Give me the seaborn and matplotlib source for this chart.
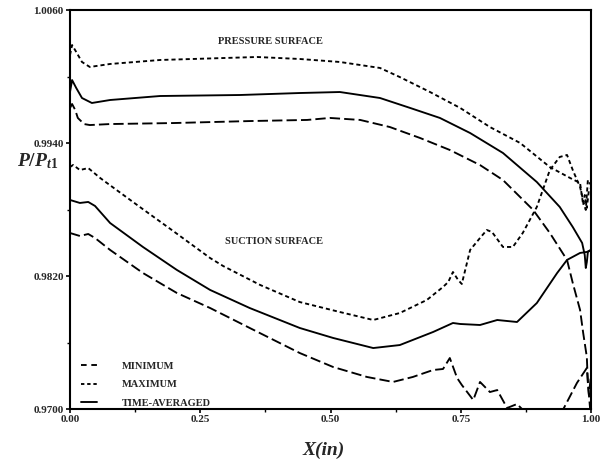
import numpy as np
import pandas as pd
import matplotlib
matplotlib.use("Agg")
import matplotlib.pyplot as plt
import seaborn as sns
from matplotlib.lines import Line2D
from matplotlib.ticker import FixedLocator

# ---------------- data ----------------
ps_max_x = [0.000, 0.004, 0.012, 0.023, 0.038, 0.077, 0.173, 0.359, 0.441, 0.518, 0.595, 0.633,
            0.691, 0.749, 0.806, 0.864, 0.921, 0.960, 0.979, 0.985, 0.988, 0.992, 0.996, 1.000]
ps_max_y = [1.00194, 1.00284, 1.00221, 1.00131, 1.00086, 1.00113, 1.00149, 1.00176, 1.00158, 1.00131,
            1.00077, 0.99995, 0.99860, 0.99716, 0.99544, 0.99400, 0.99183, 0.99084, 0.99039, 0.98841,
            0.98931, 0.98814, 0.98976, 0.98994]

ps_avg_x = [0.000, 0.004, 0.012, 0.023, 0.042, 0.077, 0.173, 0.326, 0.441, 0.518, 0.595, 0.653,
            0.710, 0.768, 0.831, 0.896, 0.940, 0.965, 0.983, 0.988, 0.990, 0.992, 0.994, 1.000]
ps_avg_y = [0.99860, 0.99968, 0.99896, 0.99806, 0.99761, 0.99788, 0.99824, 0.99833, 0.99851, 0.99860,
            0.99806, 0.99716, 0.99626, 0.99490, 0.99310, 0.99048, 0.98823, 0.98642, 0.98498, 0.98389,
            0.98272, 0.98326, 0.98417, 0.98435]

ps_min_x = [0.000, 0.004, 0.010, 0.015, 0.027, 0.038, 0.077, 0.198, 0.345, 0.455, 0.499, 0.557,
            0.614, 0.672, 0.729, 0.787, 0.831, 0.889, 0.921, 0.954, 0.965, 0.979, 0.985, 0.992,
            0.994, 0.998, 1.000]
ps_min_y = [0.99716, 0.99752, 0.99698, 0.99626, 0.99571, 0.99562, 0.99571, 0.99580, 0.99598, 0.99608,
            0.99626, 0.99608, 0.99544, 0.99445, 0.99337, 0.99201, 0.99066, 0.98796, 0.98588, 0.98345,
            0.98137, 0.97894, 0.97686, 0.97469, 0.97235, 0.97018, 0.96901]

ss_max_x = [0.000, 0.006, 0.019, 0.035, 0.058, 0.071, 0.134, 0.198, 0.269, 0.294, 0.365, 0.441,
            0.518, 0.582, 0.633, 0.685, 0.716, 0.726, 0.735, 0.745, 0.752, 0.768, 0.787, 0.800,
            0.810, 0.831, 0.850, 0.869, 0.896, 0.921, 0.940, 0.954, 0.965, 0.979, 0.987, 0.990,
            0.994, 1.000]
ss_max_y = [0.99183, 0.99202, 0.99156, 0.99174, 0.99084, 0.99039, 0.98823, 0.98606, 0.98362, 0.98290,
            0.98119, 0.97965, 0.97875, 0.97803, 0.97866, 0.97984, 0.98101, 0.98146, 0.98236, 0.98164,
            0.98128, 0.98435, 0.98543, 0.98615, 0.98597, 0.98462, 0.98462, 0.98588, 0.98823, 0.99156,
            0.99274, 0.99292, 0.99156, 0.99003, 0.98841, 0.98796, 0.99066, 0.99021]

ss_avg_x = [0.000, 0.019, 0.035, 0.048, 0.077, 0.140, 0.205, 0.269, 0.345, 0.441, 0.505, 0.582,
            0.633, 0.697, 0.735, 0.749, 0.787, 0.820, 0.858, 0.896, 0.935, 0.954, 0.979, 0.992, 1.000]
ss_avg_y = [0.98886, 0.98859, 0.98868, 0.98832, 0.98678, 0.98462, 0.98255, 0.98074, 0.97911, 0.97731,
            0.97641, 0.97550, 0.97577, 0.97695, 0.97776, 0.97767, 0.97758, 0.97803, 0.97785, 0.97956,
            0.98227, 0.98345, 0.98408, 0.98417, 0.98435]

ss_min_x = [0.000, 0.019, 0.035, 0.048, 0.077, 0.140, 0.205, 0.269, 0.345, 0.441, 0.505, 0.570,
            0.620, 0.658, 0.697, 0.716, 0.729, 0.743, 0.752, 0.774, 0.787, 0.806, 0.820, 0.839,
            0.858, 0.877, 0.912, 0.946, 0.973, 0.992, 0.996, 1.000]
ss_min_y = [0.98588, 0.98561, 0.98579, 0.98543, 0.98435, 0.98227, 0.98047, 0.97911, 0.97731, 0.97505,
            0.97379, 0.97289, 0.97244, 0.97289, 0.97352, 0.97361, 0.97460, 0.97280, 0.97217, 0.97081,
            0.97244, 0.97153, 0.97171, 0.97009, 0.97045, 0.96955, 0.96937, 0.96991, 0.97235, 0.97370,
            0.97126, 0.97307]

x_ticks = [0.0, 0.25, 0.5, 0.75, 1.0]
x_tick_labels = ["0.00", "0.25", "0.50", "0.75", "1.00"]
y_ticks = [0.9700, 0.9820, 0.9940, 1.0060]
y_tick_labels = ["0.9700", "0.9820", "0.9940", "1.0060"]
legend_labels = ["MINIMUM", "MAXIMUM", "TIME-AVERAGED"]

# ---------------- style ----------------
sns.set_style("ticks")
plt.rcParams['font.family'] = ['Liberation Serif', 'DejaVu Serif']
plt.rcParams['mathtext.fontset'] = 'custom'
plt.rcParams['mathtext.it'] = 'Liberation Serif:italic:bold'
plt.rcParams['mathtext.rm'] = 'Liberation Serif:bold'
plt.rcParams['mathtext.bf'] = 'Liberation Serif:bold'

LW = 1.35
LONG = (0, (5.5, 2.2))
SHORT = (0, (2.2, 1.6))

fig = plt.figure(figsize=(6.02, 4.68), dpi=100)
ax = fig.add_axes([70 / 602, 1 - 409 / 468, 521 / 602, 399 / 468])

series = [
    (ps_max_x, ps_max_y, SHORT),
    (ps_avg_x, ps_avg_y, '-'),
    (ps_min_x, ps_min_y, LONG),
    (ss_max_x, ss_max_y, SHORT),
    (ss_avg_x, ss_avg_y, '-'),
    (ss_min_x, ss_min_y, LONG),
]
for xs, ys, ls in series:
    df = pd.DataFrame({"x": xs, "y": ys})
    sns.lineplot(data=df, x="x", y="y", sort=False, estimator=None, color="black",
                 lw=LW, linestyle=ls, ax=ax, legend=False)

ax.set_xlim(0, 1)
ax.set_ylim(0.9700, 1.0060)
ax.set_xticks(x_ticks)
ax.set_xticklabels(x_tick_labels)
ax.set_yticks(y_ticks)
ax.set_yticklabels(y_tick_labels)
ax.xaxis.set_minor_locator(FixedLocator([0.125, 0.375, 0.625, 0.875]))
ax.yaxis.set_minor_locator(FixedLocator([0.9760, 0.9880, 1.0000]))
ax.tick_params(which='major', direction='out', length=3, width=1.2, labelsize=8, pad=1.5, color='black')
ax.tick_params(which='minor', direction='out', length=2.5, width=1.0, color='black')
for lab in ax.get_xticklabels() + ax.get_yticklabels():
    lab.set_fontweight('bold')

for sp in ax.spines.values():
    sp.set_visible(True)
    sp.set_linewidth(1.5)
    sp.set_color('black')

ax.set_xlabel("X(in)", fontsize=14, fontstyle='italic', fontweight='bold')
ax.xaxis.set_label_coords(0.486, -0.103)
ax.xaxis.label.set_va('center')
ax.set_ylabel(r"$P/P_{t1}$", fontsize=14, rotation=0, ha='center', va='center')
ax.yaxis.set_label_coords(-0.062, 0.622)

ax.text(0.384, 1.0032, "PRESSURE SURFACE", ha='center', va='center', fontsize=7.5, fontweight='bold')
ax.text(0.392, 0.98507, "SUCTION SURFACE", ha='center', va='center', fontsize=7.5, fontweight='bold')

handles = [
    Line2D([], [], color='black', lw=LW, linestyle=(0, (3.0, 2.5))),
    Line2D([], [], color='black', lw=LW, linestyle=(0, (1.8, 1.5))),
    Line2D([], [], color='black', lw=LW, linestyle='-'),
]
leg = ax.legend(handles, legend_labels, loc='lower left', bbox_to_anchor=(0.02, 0.0),
                frameon=False, handlelength=1.45, handletextpad=2.4,
                labelspacing=0.9, borderpad=0.1, borderaxespad=0.0, prop={'weight': 'bold', 'size': 7.5})

fig.savefig("out.png", dpi=100)
